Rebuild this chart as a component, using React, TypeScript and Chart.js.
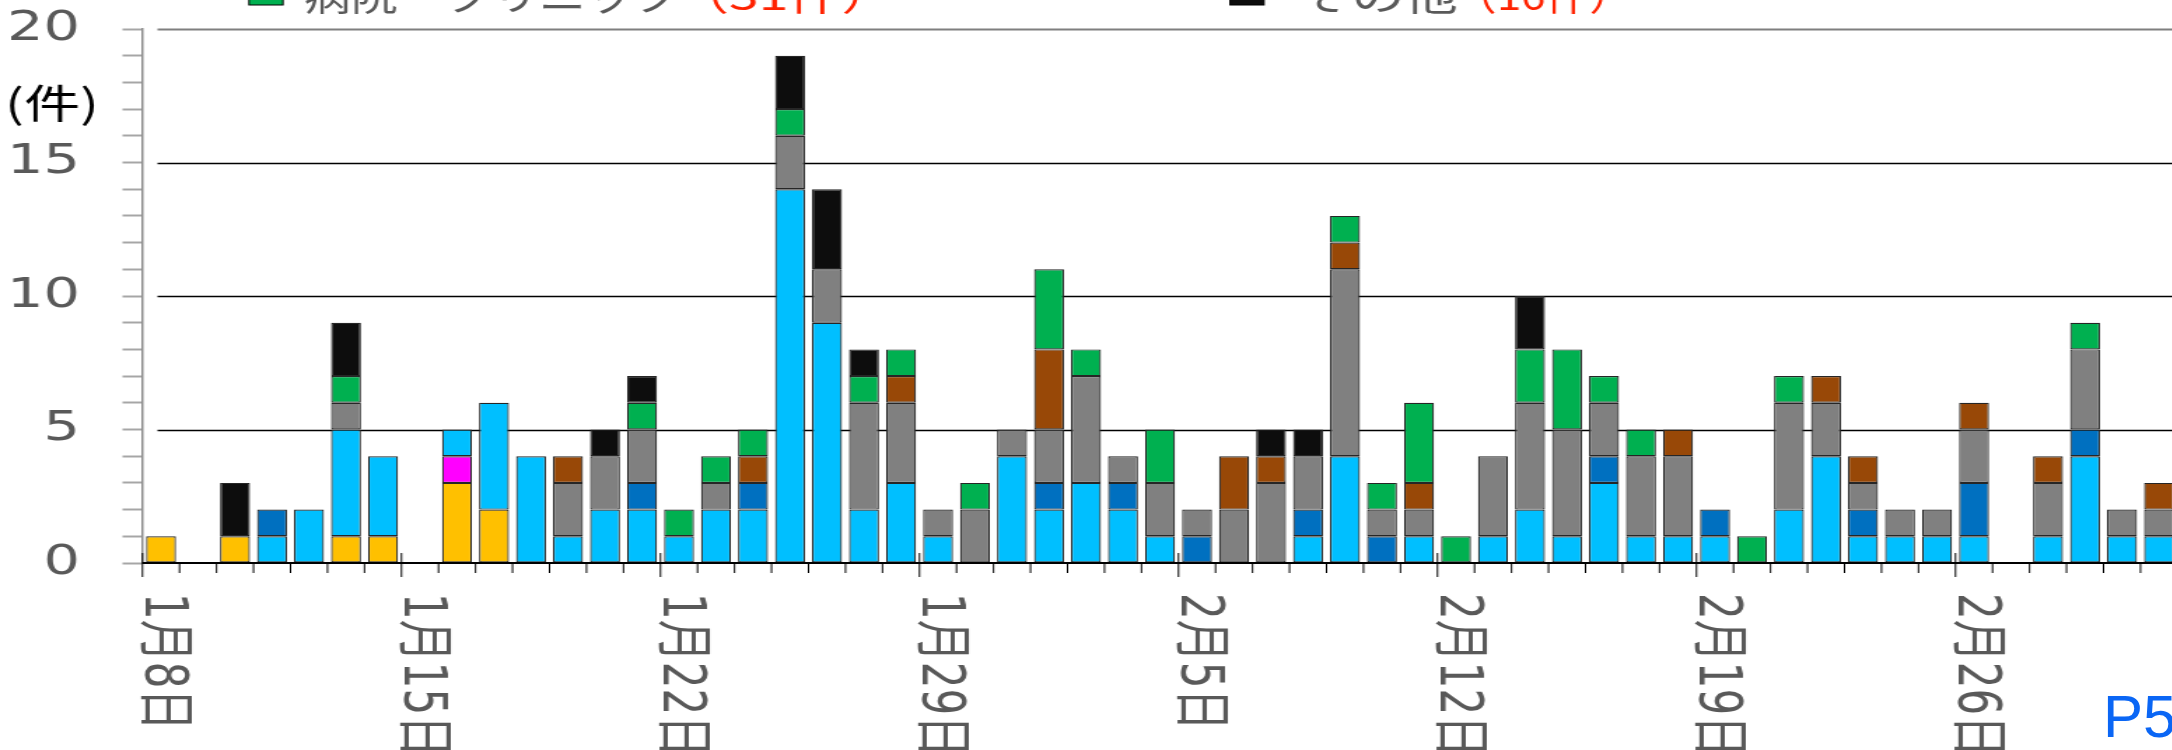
import React, { useEffect, useRef } from 'react';
import { Chart, registerables } from 'chart.js';

Chart.register(...registerables);

// ---- data ----
const dateLabels = [
  '1月8日', '1月9日', '1月10日', '1月11日', '1月12日', '1月13日', '1月14日',
  '1月15日', '1月16日', '1月17日', '1月18日', '1月19日', '1月20日', '1月21日',
  '1月22日', '1月23日', '1月24日', '1月25日', '1月26日', '1月27日', '1月28日',
  '1月29日', '1月30日', '1月31日', '2月1日', '2月2日', '2月3日', '2月4日',
  '2月5日', '2月6日', '2月7日', '2月8日', '2月9日', '2月10日', '2月11日',
  '2月12日', '2月13日', '2月14日', '2月15日', '2月16日', '2月17日', '2月18日',
  '2月19日', '2月20日', '2月21日', '2月22日', '2月23日', '2月24日', '2月25日',
  '2月26日', '2月27日', '2月28日', '3月1日', '3月2日', '3月3日',
];

const yellowValues = [1, 0, 1, 0, 0, 1, 1, 0, 3, 2, 0, 0, 0, 0, 0, 0, 0, 0, 0, 0, 0, 0, 0, 0, 0, 0, 0, 0, 0, 0, 0, 0, 0, 0, 0, 0, 0, 0, 0, 0, 0, 0, 0, 0, 0, 0, 0, 0, 0, 0, 0, 0, 0, 0, 0];
const magentaValues = [0, 0, 0, 0, 0, 0, 0, 0, 1, 0, 0, 0, 0, 0, 0, 0, 0, 0, 0, 0, 0, 0, 0, 0, 0, 0, 0, 0, 0, 0, 0, 0, 0, 0, 0, 0, 0, 0, 0, 0, 0, 0, 0, 0, 0, 0, 0, 0, 0, 0, 0, 0, 0, 0, 0];
const lightBlueValues = [0, 0, 0, 1, 2, 4, 3, 0, 1, 4, 4, 1, 2, 2, 1, 2, 2, 14, 9, 2, 3, 1, 0, 4, 2, 3, 2, 1, 0, 0, 0, 1, 4, 0, 1, 0, 1, 2, 1, 3, 1, 1, 1, 0, 2, 4, 1, 1, 1, 1, 0, 1, 4, 1, 1];
const darkBlueValues = [0, 0, 0, 1, 0, 0, 0, 0, 0, 0, 0, 0, 0, 1, 0, 0, 1, 0, 0, 0, 0, 0, 0, 0, 1, 0, 1, 0, 1, 0, 0, 1, 0, 1, 0, 0, 0, 0, 0, 1, 0, 0, 1, 0, 0, 0, 1, 0, 0, 2, 0, 0, 1, 0, 0];
const grayValues = [0, 0, 0, 0, 0, 1, 0, 0, 0, 0, 0, 2, 2, 2, 0, 1, 0, 2, 2, 4, 3, 1, 2, 1, 2, 4, 1, 2, 1, 2, 3, 2, 7, 1, 1, 0, 3, 4, 4, 2, 3, 3, 0, 0, 4, 2, 1, 1, 1, 2, 0, 2, 3, 1, 1];
const brownValues = [0, 0, 0, 0, 0, 0, 0, 0, 0, 0, 0, 1, 0, 0, 0, 0, 1, 0, 0, 0, 1, 0, 0, 0, 3, 0, 0, 0, 0, 2, 1, 0, 1, 0, 1, 0, 0, 0, 0, 0, 0, 1, 0, 0, 0, 1, 1, 0, 0, 1, 0, 1, 0, 0, 1];
const hospitalValues = [0, 0, 0, 0, 0, 1, 0, 0, 0, 0, 0, 0, 0, 1, 1, 1, 1, 1, 0, 1, 1, 0, 1, 0, 3, 1, 0, 2, 0, 0, 0, 0, 1, 1, 3, 1, 0, 2, 3, 1, 1, 0, 0, 1, 1, 0, 0, 0, 0, 0, 0, 0, 1, 0, 0];
const otherValues = [0, 0, 2, 0, 0, 2, 0, 0, 0, 0, 0, 0, 1, 1, 0, 0, 0, 2, 3, 1, 0, 0, 0, 0, 0, 0, 0, 0, 0, 0, 1, 1, 0, 0, 0, 0, 0, 2, 0, 0, 0, 0, 0, 0, 0, 0, 0, 0, 0, 0, 0, 0, 0, 0, 0];

const seriesNames = ['区分1', '区分2', '区分3', '区分4', '区分5', '区分6', '病院・クリニック', 'その他'];
const seriesColors = ['#FFC000', '#FF00FF', '#00BFFF', '#0070C0', '#808080', '#984807', '#00B050', '#0D0D0D'];

const legendLabels = ['病院・クリニック', 'その他'];
const legendCounts = ['（31件）', '（16件）'];
const legendColors = ['#00B050', '#0D0D0D'];

const yMajorTicks = [5, 10, 15, 20];
const unitLabel = '(件)';
const pageLabel = 'P5';

// ---- layout (canvas is drawn narrow and stretched horizontally) ----
const SX = 1.4;
const CSS_W = 2184;
const INT_W = Math.round(CSS_W / SX);
const H = 750;
const fx = (v: number) => v / SX; // full-screen x -> internal x

const decorPlugin = {
  id: 'decor',
  beforeDatasetsDraw(chart: any) {
    const { ctx, chartArea: a, scales } = chart;
    const y = scales.y;
    ctx.save();
    yMajorTicks.forEach((v) => {
      const py = Math.round(y.getPixelForValue(v)) + 0.5;
      ctx.strokeStyle = v === 20 ? '#7f7f7f' : '#000000';
      ctx.lineWidth = v === 20 ? 2 : 1.3;
      ctx.beginPath();
      ctx.moveTo(a.left + fx(15), py);
      ctx.lineTo(a.right, py);
      ctx.stroke();
    });
    ctx.restore();
  },
  afterDatasetsDraw(chart: any) {
    const { ctx, chartArea: a, scales } = chart;
    const x = scales.x;
    const n = dateLabels.length;
    const cw = (a.right - a.left) / n;
    ctx.save();
    // x axis line
    ctx.strokeStyle = '#000000';
    ctx.lineWidth = 2;
    ctx.beginPath();
    ctx.moveTo(a.left, a.bottom);
    ctx.lineTo(a.right, a.bottom);
    ctx.stroke();
    // ticks
    ctx.lineWidth = 1;
    for (let i = 0; i <= n; i++) {
      const px = a.left + i * cw;
      const long = i % 7 === 0;
      ctx.beginPath();
      ctx.moveTo(px, a.bottom + (long ? -10 : 0));
      ctx.lineTo(px, a.bottom + (long ? 14 : 10));
      ctx.stroke();
    }
    // rotated date labels
    ctx.fillStyle = '#595959';
    ctx.font = '42px "DejaVu Sans", "Noto Sans CJK JP", sans-serif';
    ctx.textAlign = 'left';
    ctx.textBaseline = 'middle';
    dateLabels.forEach((lab, i) => {
      if (i % 7 !== 0) return;
      const px = x.getPixelForValue(i);
      ctx.save();
      ctx.translate(px, 593);
      ctx.rotate(Math.PI / 2);
      ctx.fillText(lab, 0, 0);
      ctx.restore();
    });
    ctx.restore();
  },
  afterDraw(chart: any) {
    const { ctx } = chart;
    ctx.save();
    // unit label
    ctx.fillStyle = '#000000';
    ctx.font = '40px "Noto Sans CJK JP", sans-serif';
    ctx.textAlign = 'center';
    ctx.textBaseline = 'middle';
    ctx.fillText(unitLabel, fx(52), 103);
    // legend (cut off at top)
    const boxes = [fx(249), fx(1230)];
    const textX = [fx(304), fx(1298)];
    const textW = [fx(376), fx(165)];
    const countX = [fx(676), fx(1453)];
    const countW = [fx(230), fx(180)];
    ctx.font = '38px "Noto Sans CJK JP", sans-serif';
    ctx.textAlign = 'left';
    ctx.textBaseline = 'alphabetic';
    legendLabels.forEach((lab, i) => {
      ctx.fillStyle = legendColors[i];
      ctx.fillRect(boxes[i], -19, fx(34), 24);
      ctx.strokeStyle = '#000000';
      ctx.lineWidth = 1;
      ctx.strokeRect(boxes[i], -19, fx(34), 24);
      ctx.fillStyle = '#595959';
      ctx.fillText(lab, textX[i], 10, textW[i]);
      ctx.fillStyle = '#FF2200';
      ctx.fillText(legendCounts[i], countX[i], 10, countW[i]);
    });
    ctx.restore();
  },
};

const allSeries = [yellowValues, magentaValues, lightBlueValues, darkBlueValues, grayValues, brownValues, hospitalValues, otherValues];

export default function App() {
  const ref = useRef<HTMLCanvasElement>(null);
  useEffect(() => {
    if (!ref.current) return;
    const chart = new Chart(ref.current, {
      type: 'bar',
      data: {
        labels: dateLabels,
        datasets: allSeries.map((vals, i) => ({
          label: seriesNames[i],
          data: vals,
          backgroundColor: seriesColors[i],
          borderColor: '#262626',
          borderWidth: 1.2,
          borderSkipped: false,
          barPercentage: 0.81,
          categoryPercentage: 1,
        })),
      },
      options: {
        responsive: false,
        animation: false,
        devicePixelRatio: 1,
        layout: {
          padding: { left: 0, top: 29, right: INT_W - fx(2177.5), bottom: H - 563 },
        },
        plugins: {
          legend: { display: false },
          tooltip: { enabled: false },
        },
        scales: {
          x: {
            type: 'category',
            stacked: true,
            offset: true,
            display: false,
          },
          y: {
            stacked: true,
            min: 0,
            max: 20,
            afterFit: (scale: any) => {
              scale.width = fx(142.5);
              scale.paddingTop = 0;
              scale.paddingBottom = 0;
            },
            border: { display: true, color: '#8c8c8c', width: 1.5 },
            grid: {
              drawOnChartArea: false,
              drawTicks: true,
              tickLength: fx(20),
              tickColor: '#a6a6a6',
              tickWidth: 2,
            },
            ticks: {
              stepSize: 1,
              autoSkip: false,
              padding: fx(142.5) - fx(20) - fx(80),
              color: '#595959',
              font: { family: '"DejaVu Sans", sans-serif', size: 41 },
              callback: (v: any) => (Number(v) % 5 === 0 ? String(v) : ''),
            },
          },
        },
      },
      plugins: [decorPlugin],
    } as any);
    return () => chart.destroy();
  }, []);

  return (
    <div style={{ position: 'fixed', left: 0, top: 0, width: 2172, height: 750, overflow: 'hidden', background: '#ffffff' }}>
      <canvas
        ref={ref}
        width={INT_W}
        height={H}
        style={{ position: 'absolute', left: 0, top: 0, width: CSS_W + 'px', height: H + 'px' }}
      />
      <div
        style={{
          position: 'absolute',
          left: 2103,
          top: 687,
          fontFamily: '"Liberation Sans", Arial, sans-serif',
          fontSize: 60,
          lineHeight: '60px',
          color: '#0A66F5',
          whiteSpace: 'nowrap',
        }}
      >
        {pageLabel}
      </div>
    </div>
  );
}
